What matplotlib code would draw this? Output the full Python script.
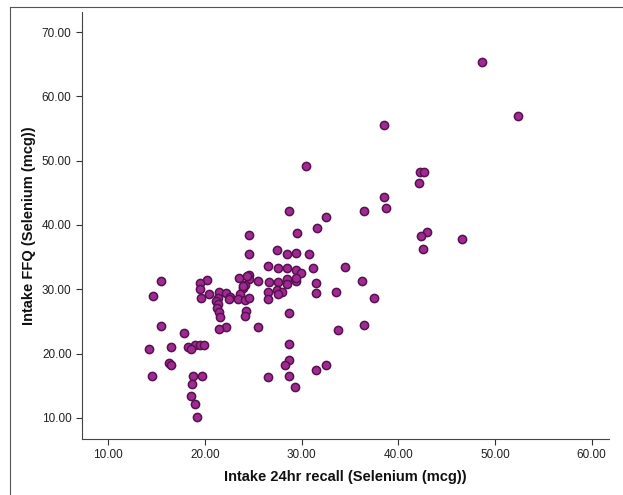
import matplotlib
matplotlib.use("Agg")
import matplotlib.pyplot as plt
from matplotlib.lines import Line2D
from matplotlib.ticker import FormatStrFormatter

plt.rcParams['font.family'] = ['Liberation Sans', 'DejaVu Sans']

# 24hr recall (x) vs FFQ (y), selenium intake in mcg
recall_24hr = [48.63, 52.38, 38.50, 30.47, 42.21, 42.70, 42.17, 38.54, 38.75, 28.66,
               36.44, 32.49, 31.58, 42.99, 42.37, 46.57, 24.58, 29.48, 42.54, 27.50,
               24.58, 28.45, 29.44, 30.76, 26.47, 27.59, 28.49, 31.21, 34.46, 29.44,
               29.89, 24.58, 23.51, 24.58, 20.17, 15.48, 25.49, 26.60, 27.59, 28.49,
               29.44, 29.44, 31.50, 36.28, 28.45, 19.47, 24.17, 23.96, 19.47, 27.50,
               26.47, 33.56, 31.46, 27.92, 27.60, 20.46, 21.45, 22.19, 23.59, 14.61,
               22.56, 21.37, 21.12, 19.64, 23.47, 24.13, 24.58, 26.47, 37.47, 22.48,
               21.33, 21.20, 21.45, 24.25, 28.66, 24.17, 21.57, 15.48, 36.48, 25.44,
               22.19, 21.45, 33.72, 17.87, 28.66, 18.94, 19.47, 19.93, 18.28, 18.53,
               16.51, 14.24, 16.26, 16.47, 28.66, 28.25, 32.57, 31.46, 14.57, 18.81,
               19.68, 26.56, 28.66, 18.69, 29.36, 18.57, 18.94, 19.18, 24.40, 23.92]
ffq = [65.29, 56.99, 55.49, 49.16, 48.28, 48.28, 46.57, 44.34, 42.57, 42.21,
       42.21, 41.17, 39.56, 38.94, 38.27, 37.85, 38.42, 38.68, 36.24, 36.14,
       35.41, 35.41, 35.67, 35.47, 33.55, 33.34, 33.24, 33.24, 33.44, 32.93,
       32.56, 32.20, 31.78, 31.58, 31.47, 31.27, 31.32, 31.16, 31.16, 31.58,
       31.21, 31.73, 30.90, 31.27, 30.85, 30.90, 30.59, 30.23, 29.97, 29.81,
       29.61, 29.56, 29.45, 29.50, 29.30, 29.19, 29.50, 29.35, 29.24, 28.88,
       28.78, 28.67, 28.20, 28.62, 28.41, 28.31, 28.67, 28.52, 28.67, 28.41,
       27.69, 27.06, 26.49, 26.55, 26.23, 25.77, 25.61, 24.26, 24.37, 24.16,
       24.16, 23.80, 23.59, 23.17, 21.46, 21.31, 21.26, 21.26, 21.05, 20.74,
       20.94, 20.63, 18.56, 18.25, 18.92, 18.25, 18.20, 17.47, 16.48, 16.48,
       16.48, 16.33, 16.54, 15.24, 14.72, 13.42, 12.23, 10.10, 32.00, 30.50]

x_ticks = [10, 20, 30, 40, 50, 60]
y_ticks = [10, 20, 30, 40, 50, 60, 70]

fig = plt.figure(figsize=(6.23, 4.95), dpi=100)
ax = fig.add_axes([0.1316, 0.113, 0.846, 0.8626])

ax.scatter(recall_24hr, ffq, s=35, c='#9E2C90', edgecolors='#5A0F52',
           linewidths=1.1, zorder=3)

ax.set_xlim(7.28, 61.8)
ax.set_ylim(6.7, 73.1)
ax.set_xticks(x_ticks)
ax.set_yticks(y_ticks)
ax.xaxis.set_major_formatter(FormatStrFormatter('%.2f'))
ax.yaxis.set_major_formatter(FormatStrFormatter('%.2f'))
ax.tick_params(direction='out', length=4, width=0.8, labelsize=8.5,
               colors='#333333', labelcolor='#222222')

for side in ['top', 'right']:
    ax.spines[side].set_visible(False)
for side in ['left', 'bottom']:
    ax.spines[side].set_color('#444444')
    ax.spines[side].set_linewidth(0.8)

ax.set_xlabel('Intake 24hr recall (Selenium (mcg))', fontsize=10.5,
              fontweight='bold', color='#111111', labelpad=6)
ax.set_ylabel('Intake FFQ (Selenium (mcg))', fontsize=10.5,
              fontweight='bold', color='#111111', labelpad=4)

# outer frame lines (left and top)
fig.add_artist(Line2D([0.016, 0.016], [0.0, 0.986], color='#555555', lw=0.8))
fig.add_artist(Line2D([0.016, 1.0], [0.986, 0.986], color='#555555', lw=0.8))

fig.savefig('out.png', dpi=100)
